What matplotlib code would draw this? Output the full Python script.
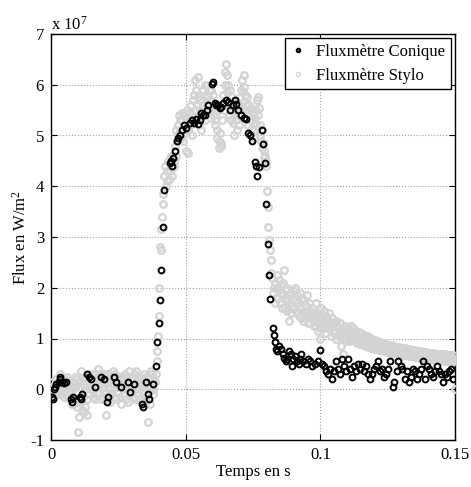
import matplotlib
matplotlib.use("Agg")
import matplotlib.pyplot as plt
from matplotlib.lines import Line2D

plt.rcParams['font.family'] = ['Liberation Serif', 'DejaVu Serif']
plt.rcParams['mathtext.default'] = 'regular'

# ---------------- data (time in ms, flux in units of 1e7 W/m^2) ----------------
conique_t_ms = [
    0.3, 0.6, 1.0, 1.5, 2.0, 2.8, 3.2, 3.5, 3.8, 4.2, 4.8, 5.5, 7.3, 7.7, 8.2, 10.6, 11.0, 11.5, 13.5, 14.0,
    14.8, 16.5, 18.5, 19.5, 20.8, 21.2, 23.5, 24.0, 26.0, 28.5, 29.5, 31.0, 33.8, 34.2, 35.4, 36.0, 36.5, 37.8,
    38.9, 39.2, 40.2, 40.4, 41.0, 41.4, 41.9, 44.2, 44.5, 44.8, 45.3, 46.0, 46.6, 47.2, 48.0, 48.8, 49.5, 50.3,
    51.5, 52.5, 53.2, 54.0, 54.6, 55.2, 55.8, 56.5, 57.0, 57.8, 58.3, 59.6, 60.2, 60.8, 61.4, 62.0, 62.6, 63.3,
    64.0, 65.0, 65.8, 66.5, 67.5, 68.2, 68.8, 69.5, 70.5, 71.5, 72.5, 73.1, 73.8, 74.5, 75.6, 76.0, 76.5, 77.2,
    78.2, 78.7, 79.3, 79.9, 80.5, 81.0, 81.4, 82.4, 82.7, 83.0,
    83.5, 84.0, 84.5, 85.5, 86.0, 86.5, 87.2, 87.8, 88.5, 89.0, 89.5, 90.0, 90.7, 91.3, 92.0, 92.5, 93.0, 93.5,
    94.5, 95.5, 96.3, 97.0, 98.0, 99.0, 99.8, 100.5, 101.3, 102.0, 102.7, 103.5, 104.2, 105.0, 105.8, 106.5,
    107.2, 108.0, 108.8, 109.5, 110.3, 111.0, 111.8, 112.5, 113.2, 114.0, 114.8, 115.5, 116.3, 117.0, 117.8,
    118.6, 119.3, 120.0, 120.8, 121.5, 122.3, 123.0, 123.8, 124.5, 125.3, 126.0, 126.8, 127.5, 128.3, 129.0,
    129.8, 130.5, 131.3, 132.0, 132.8, 133.5, 134.3, 135.0, 135.8, 136.5, 137.3, 138.0, 138.8, 139.5, 140.3,
    141.0, 141.8, 142.5, 143.3, 144.0, 144.8, 145.5, 146.3, 147.0, 147.8, 148.5, 149.2,
]
conique_flux = [
    -0.15, -0.2, 0.0, 0.05, 0.1, 0.15, 0.25, 0.2, 0.15, 0.15, 0.12, 0.15, -0.2, -0.25, -0.15, -0.15, -0.2, -0.1, 0.3, 0.25,
    0.2, 0.05, 0.25, 0.2, -0.25, -0.15, 0.25, 0.15, 0.05, 0.15, -0.05, 0.1, -0.3, -0.35, 0.15, -0.1, -0.2, 0.1,
    0.46, 0.94, 1.3, 1.76, 2.35, 3.2, 3.93, 4.45, 4.5, 4.4, 4.55, 4.7, 4.9, 4.95, 5.0, 5.1, 5.2, 5.14,
    5.25, 5.3, 5.25, 5.33, 5.23, 5.3, 5.45, 5.4, 5.4, 5.5, 5.6, 6.02, 6.05, 5.65, 5.6, 5.6, 5.55, 5.56,
    5.65, 5.7, 5.66, 5.5, 5.6, 5.7, 5.63, 5.5, 5.4, 5.35, 5.33, 5.04, 5.0, 4.9, 4.48, 4.4, 4.2, 4.38,
    5.1, 4.84, 4.45, 3.66, 2.87, 2.25, 1.77, 1.2, 1.07, 0.94,
    0.8, 0.75, 0.85, 0.8, 0.7, 0.62, 0.55, 0.6, 0.75, 0.7, 0.45, 0.6, 0.65, 0.55, 0.5, 0.6, 0.7, 0.55,
    0.5, 0.6, 0.55, 0.45, 0.5, 0.55, 0.78, 0.5, 0.45, 0.35, 0.3, 0.4, 0.2, 0.35, 0.55, 0.4,
    0.3, 0.6, 0.45, 0.35, 0.6, 0.4, 0.25, 0.45, 0.35, 0.5, 0.4, 0.5, 0.35, 0.45, 0.3,
    0.2, 0.3, 0.4, 0.45, 0.55, 0.35, 0.4, 0.25, 0.3, 0.4, 0.55, 0.05, 0.15, 0.35, 0.55,
    0.45, 0.4, 0.2, 0.35, 0.15, 0.25, 0.4, 0.35, 0.2, 0.3, 0.4, 0.55, 0.2, 0.45, 0.4,
    0.3, 0.25, 0.35, 0.45, 0.35, 0.3, 0.15, 0.3, 0.25, 0.35, 0.4, 0.2,
]

stylo_t_ms = [
    0.0, 0.5, 1.0, 1.5, 2.0, 2.5, 3.0, 3.5, 4.0, 4.5,
    5.0, 5.5, 6.0, 6.5, 7.0, 7.5, 8.0, 8.5, 9.0, 9.5,
    10.0, 10.5, 11.0, 11.5, 12.0, 12.5, 13.0, 13.5, 14.0, 14.5,
    15.0, 15.5, 16.0, 16.5, 17.0, 17.5, 18.0, 18.5, 19.0, 19.5,
    20.0, 20.5, 21.0, 21.5, 22.0, 22.5, 23.0, 23.5, 24.0, 24.5,
    25.0, 25.5, 26.0, 26.5, 27.0, 27.5, 28.0, 28.5, 29.0, 29.5,
    30.0, 30.5, 31.0, 31.5, 32.0, 32.5, 33.0, 33.5, 34.0, 34.5,
    35.0, 35.5, 36.0, 36.5, 37.0, 37.5, 38.0, 38.5,
    0.25, 0.75, 1.25, 1.75, 2.25, 2.75, 3.25, 3.75, 4.25, 4.75,
    5.25, 5.75, 6.25, 6.75, 7.25, 7.75, 8.25, 8.75, 9.25, 9.75,
    10.25, 10.75, 11.25, 11.75, 12.25, 12.75, 13.25, 13.75, 14.25, 14.75,
    15.25, 15.75, 16.25, 16.75, 17.25, 17.75, 18.25, 18.75, 19.25, 19.75,
    20.25, 20.75, 21.25, 21.75, 22.25, 22.75, 23.25, 23.75, 24.25, 24.75,
    25.25, 25.75, 26.25, 26.75, 27.25, 27.75, 28.25, 28.75, 29.25, 29.75,
    30.25, 30.75, 31.25, 31.75, 32.25, 32.75, 33.25, 33.75, 34.25, 34.75,
    35.25, 35.75, 36.25, 36.75, 37.25, 37.75, 38.25,
    39.0, 39.25, 39.5, 39.75, 40.0, 40.25, 40.5, 40.75, 41.0, 41.25, 41.5, 41.75, 42.0,
    42.5, 43.0, 43.5, 44.0, 44.5, 45.0, 45.5, 46.0, 46.5, 47.0,
    47.5, 48.0, 48.5, 49.0, 49.5, 50.0, 50.5, 51.0, 51.5, 52.0,
    52.5, 53.0, 53.5, 54.0, 54.5, 55.0, 55.5, 56.0, 56.5, 57.0,
    57.5, 58.0, 58.5, 59.0, 59.5, 60.0, 60.5, 61.0, 61.5, 62.0,
    62.5, 63.0, 63.5, 64.0, 64.5, 65.0, 65.5, 66.0, 66.5, 67.0,
    67.5, 68.0, 68.5, 69.0, 69.5, 70.0, 70.5, 71.0, 71.5, 72.0,
    72.5, 73.0, 73.5, 74.0, 74.5, 75.0, 75.5, 76.0, 76.5, 77.0,
    77.5, 78.0, 78.5, 79.0, 79.5, 80.0,
    42.75, 43.25, 43.75, 44.25, 44.75, 45.25, 45.75, 46.25, 46.75, 47.25,
    47.75, 48.25, 48.75, 49.25, 49.75, 50.25, 50.75, 51.25, 51.75, 52.25,
    52.75, 53.25, 53.75, 54.25, 54.75, 55.25, 55.75, 56.25, 56.75, 57.25,
    57.75, 58.25, 58.75, 59.25, 59.75, 60.25, 60.75, 61.25, 61.75, 62.25,
    62.75, 63.25, 63.75, 64.25, 64.75, 65.25, 65.75, 66.25, 66.75, 67.25,
    67.75, 68.25, 68.75, 69.25, 69.75, 70.25, 70.75, 71.25, 71.75, 72.25,
    72.75, 73.25, 73.75, 74.25, 74.75, 75.25, 75.75, 76.25, 76.75, 77.25,
    77.75, 78.25, 78.75, 79.25, 79.75,
    80.25, 80.5, 80.75, 81.0, 81.25, 81.5, 81.75, 82.0,
    82.5, 83.0, 83.5, 84.0, 84.5, 85.0, 85.5, 86.0, 86.5, 87.0,
    87.5, 88.0, 88.5, 89.0, 89.5, 90.0, 90.5, 91.0, 91.5, 92.0,
    92.5, 93.0, 93.5, 94.0, 94.5, 95.0, 95.5, 96.0, 96.5, 97.0,
    97.5, 98.0, 98.5, 99.0, 99.5, 100.0,
    82.75, 83.25, 83.75, 84.25, 84.75, 85.25, 85.75, 86.25, 86.75, 87.25,
    87.75, 88.25, 88.75, 89.25, 89.75, 90.25, 90.75, 91.25, 91.75, 92.25,
    92.75, 93.25, 93.75, 94.25, 94.75, 95.25, 95.75, 96.25, 96.75, 97.25,
    97.75, 98.25, 98.75, 99.25, 99.75,
    100.5, 101.0, 101.5, 102.0, 102.5, 103.0, 103.5, 104.0, 104.5, 105.0,
    105.5, 106.0, 106.5, 107.0, 107.5, 108.0, 108.5, 109.0, 109.5, 110.0,
    110.5, 111.0, 111.5, 112.0, 112.5, 113.0, 113.5, 114.0, 114.5, 115.0,
    115.5, 116.0, 116.5, 117.0, 117.5, 118.0, 118.5, 119.0, 119.5, 120.0,
    120.5, 121.0, 121.5, 122.0, 122.5, 123.0, 123.5, 124.0, 124.5, 125.0,
    125.5, 126.0, 126.5, 127.0, 127.5, 128.0, 128.5, 129.0, 129.5, 130.0,
    130.5, 131.0, 131.5, 132.0, 132.5, 133.0, 133.5, 134.0, 134.5, 135.0,
    135.5, 136.0, 136.5, 137.0, 137.5, 138.0, 138.5, 139.0, 139.5, 140.0,
    140.5, 141.0, 141.5, 142.0, 142.5, 143.0, 143.5, 144.0, 144.5, 145.0,
    145.5, 146.0, 146.5, 147.0, 147.5, 148.0, 148.5, 149.0, 149.5, 150.0,
    100.25, 100.75, 101.25, 101.75, 102.25, 102.75, 103.25, 103.75, 104.25, 104.75,
    105.25, 105.75, 106.25, 106.75, 107.25, 107.75, 108.25, 108.75, 109.25, 109.75,
    110.25, 110.75, 111.25, 111.75, 112.25, 112.75, 113.25, 113.75, 114.25, 114.75,
    115.25, 115.75, 116.25, 116.75, 117.25, 117.75, 118.25, 118.75, 119.25, 119.75,
    120.25, 120.75, 121.25, 121.75, 122.25, 122.75, 123.25, 123.75, 124.25, 124.75,
    125.25, 125.75, 126.25, 126.75, 127.25, 127.75, 128.25, 128.75, 129.25, 129.75,
    130.25, 130.75, 131.25, 131.75, 132.25, 132.75, 133.25, 133.75, 134.25, 134.75,
    135.25, 135.75, 136.25, 136.75, 137.25, 137.75, 138.25, 138.75, 139.25, 139.75,
    140.25, 140.75, 141.25, 141.75, 142.25, 142.75, 143.25, 143.75, 144.25, 144.75,
    145.25, 145.75, 146.25, 146.75, 147.25, 147.75, 148.25, 148.75, 149.25, 149.75,
]
stylo_flux = [
    0.05, -0.1, 0.0, 0.1, 0.05, 0.15, -0.05, 0.1, 0.2, 0.0,
    0.1, -0.05, 0.25, 0.0, -0.2, -0.1, 0.15, -0.3, 0.05, 0.2,
    -0.85, -0.55, 0.35, -0.4, 0.1, -0.35, 0.2, -0.5, 0.3, 0.0,
    0.25, -0.15, 0.1, 0.3, -0.1, 0.4, 0.05, -0.2, 0.2, 0.15,
    -0.1, -0.5, 0.3, 0.0, -0.25, 0.1, 0.35, -0.15, 0.2, 0.05,
    -0.05, 0.25, -0.3, 0.15, 0.0, 0.3, -0.2, 0.1, 0.35, -0.1,
    0.2, -0.15, 0.05, 0.35, 0.0, -0.2, 0.15, 0.25, -0.1, 0.3,
    -0.25, 0.1, -0.65, 0.2, 0.05, 0.3, -0.1, 0.15,
    0.15, 0.0, -0.15, 0.2, -0.05, 0.05, 0.3, -0.1, 0.1, -0.15,
    0.2, 0.05, -0.15, 0.15, 0.05, -0.3, 0.0, 0.25, -0.2, -0.35,
    0.15, -0.25, 0.05, -0.15, -0.45, 0.25, -0.2, 0.05, -0.1, 0.2,
    0.0, 0.3, -0.2, 0.15, 0.25, -0.05, 0.3, 0.1, -0.15, 0.3,
    0.1, -0.2, 0.15, -0.1, 0.25, -0.05, 0.1, 0.3, -0.2, 0.25,
    0.1, -0.15, 0.2, -0.1, 0.25, 0.05, 0.2, -0.25, 0.05, 0.2,
    0.0, 0.3, -0.2, 0.1, 0.25, 0.05, -0.25, 0.1, 0.2, -0.05,
    0.25, -0.15, 0.0, -0.3, 0.35, 0.0, 0.2,
    0.3, 0.55, 0.75, 1.05, 1.45, 2.0, 2.8, 2.75, 3.15, 3.4, 3.65, 3.85, 4.2,
    4.4, 4.1, 4.5, 4.3, 4.6, 4.2, 4.5, 4.8, 4.6, 5.0,
    5.4, 5.1, 5.3, 4.9, 5.4, 4.7, 5.5, 5.1, 5.3, 5.6,
    5.0, 5.8, 6.1, 5.5, 6.15, 5.2, 5.7, 5.4, 5.9, 5.3,
    5.8, 6.0, 5.5, 5.7, 5.9, 5.4, 5.6, 5.2, 4.95, 5.5,
    4.75, 4.85, 5.3, 5.8, 6.0, 6.4, 6.2, 5.6, 5.9, 5.3,
    5.5, 5.0, 5.7, 5.1, 5.4, 5.6, 5.9, 6.1, 6.2, 5.8,
    5.5, 5.2, 5.6, 5.0, 5.3, 5.45, 4.95, 5.2, 5.7, 5.75,
    5.2, 4.9, 5.1, 4.55, 4.6, 4.4,
    4.0, 4.3, 4.15, 4.45, 4.35, 4.6, 4.4, 5.1, 4.9, 5.2,
    5.3, 4.95, 5.45, 5.2, 5.05, 5.35, 4.65, 5.45, 5.2, 5.4,
    5.7, 5.3, 5.9, 5.6, 5.75, 5.5, 5.1, 5.6, 5.5, 6.0,
    5.6, 5.75, 5.9, 5.35, 5.55, 5.8, 5.3, 5.45, 5.1, 4.9,
    5.05, 4.8, 5.6, 5.5, 6.25, 5.85, 6.0, 5.4, 5.65, 5.75,
    5.25, 5.45, 5.3, 5.6, 5.2, 5.75, 5.5, 5.85, 5.95, 5.6,
    5.75, 5.45, 5.3, 5.55, 5.15, 5.1, 5.35, 5.5, 5.4, 5.55,
    5.0, 4.75, 4.85, 4.7, 4.5,
    3.9, 3.6, 3.2, 2.95, 2.75, 2.55, 2.3, 2.2,
    1.9, 2.1, 1.8, 2.25, 1.95, 1.7, 2.05, 1.85, 2.35, 1.6,
    2.0, 1.75, 1.35, 1.9, 1.65, 1.8, 2.0, 1.55, 1.7, 1.45,
    1.9, 1.6, 1.35, 1.75, 1.5, 1.85, 1.3, 1.55, 1.4, 1.6,
    1.25, 1.5, 1.7, 1.15, 1.4, 1.0,
    2.0, 1.7, 2.0, 1.8, 2.15, 1.9, 1.6, 2.1, 1.75, 1.95,
    1.55, 1.85, 1.7, 1.5, 1.95, 1.6, 1.75, 1.85, 1.5, 1.65,
    1.4, 1.8, 1.55, 1.4, 1.65, 1.5, 1.7, 1.3, 1.5, 1.45,
    1.35, 1.25, 1.45, 1.3, 1.2,
    1.45, 1.25, 1.35, 1.1, 1.4, 1.2, 1.3, 1.05, 1.25, 1.15,
    1.3, 1.0, 1.2, 1.1, 0.85, 1.15, 0.7, 1.05, 0.95, 1.1,
    1.0, 1.15, 1.05, 1.1, 1.0, 1.08, 0.98, 1.04, 0.95, 1.02,
    0.93, 0.99, 0.92, 0.97, 0.9, 0.95, 0.88, 0.93, 0.87, 0.92,
    0.86, 0.9, 0.85, 0.88, 0.83, 0.87, 0.82, 0.85, 0.8, 0.84,
    0.79, 0.82, 0.78, 0.81, 0.77, 0.8, 0.76, 0.79, 0.75, 0.78,
    0.74, 0.77, 0.73, 0.76, 0.72, 0.75, 0.72, 0.74, 0.71, 0.73,
    0.7, 0.72, 0.69, 0.71, 0.68, 0.7, 0.68, 0.69, 0.67, 0.68,
    0.66, 0.68, 0.65, 0.67, 0.65, 0.66, 0.64, 0.66, 0.63, 0.65,
    0.63, 0.64, 0.62, 0.64, 0.61, 0.63, 0.61, 0.62, 0.6, 0.0,
    1.6, 1.3, 1.55, 1.2, 1.45, 1.3, 1.5, 1.2, 1.4, 1.3,
    1.1, 1.35, 1.25, 1.05, 1.3, 1.15, 1.2, 1.0, 1.25, 1.1,
    1.2, 0.95, 1.25, 1.0, 1.2, 0.95, 1.15, 0.92, 1.12, 0.9,
    1.1, 0.88, 1.07, 0.86, 1.05, 0.84, 1.02, 0.82, 1.0, 0.8,
    0.98, 0.79, 0.96, 0.78, 0.94, 0.77, 0.92, 0.76, 0.9, 0.74,
    0.88, 0.73, 0.87, 0.72, 0.85, 0.71, 0.84, 0.7, 0.83, 0.69,
    0.82, 0.68, 0.81, 0.67, 0.8, 0.66, 0.79, 0.65, 0.78, 0.64,
    0.77, 0.63, 0.76, 0.62, 0.75, 0.61, 0.74, 0.6, 0.73, 0.6,
    0.72, 0.59, 0.72, 0.58, 0.71, 0.58, 0.7, 0.57, 0.7, 0.57,
    0.69, 0.56, 0.69, 0.56, 0.68, 0.55, 0.68, 0.55, 0.67, 0.55,
]

series_labels = ['Fluxmètre Conique', 'Fluxmètre Stylo']
x_ticks = [0, 0.05, 0.1, 0.15]
x_tick_labels = ['0', '0.05', '0.1', '0.15']
y_ticks = [-1, 0, 1, 2, 3, 4, 5, 6, 7]
y_tick_labels = ['-1', '0', '1', '2', '3', '4', '5', '6', '7']

assert len(conique_t_ms) == len(conique_flux)
assert len(stylo_t_ms) == len(stylo_flux)

conique_t = [v / 1000.0 for v in conique_t_ms]
stylo_t = [v / 1000.0 for v in stylo_t_ms]

# ---------------- figure ----------------
W, H = 471, 487
fig = plt.figure(figsize=(W / 100, H / 100), dpi=100)
ax = fig.add_axes([51 / W, 47 / H, 404 / W, 406 / H])

grey = '#d3d3d3'
ax.plot(stylo_t, stylo_flux, linestyle='none', marker='o', ms=4.8,
        mfc='none', mec=grey, mew=1.6, zorder=3)
ax.plot(conique_t, conique_flux, linestyle='none', marker='o', ms=4.2,
        mfc='none', mec='black', mew=1.4, zorder=4)

ax.set_xlim(0, 0.15)
ax.set_ylim(-1, 7)
ax.set_xticks(x_ticks)
ax.set_xticklabels(x_tick_labels)
ax.set_yticks(y_ticks)
ax.set_yticklabels(y_tick_labels)
ax.tick_params(direction='in', top=True, right=True, length=4, width=0.8,
               labelsize=12, pad=5)
ax.grid(True, linestyle=':', color='#a0a0a0', linewidth=0.8)
ax.set_axisbelow(True)
for s in ax.spines.values():
    s.set_linewidth(1.0)

ax.set_xlabel('Temps en s', fontsize=12, labelpad=1)
ax.set_ylabel('Flux en W/m$^2$', fontsize=12, labelpad=0)

ax.text(0.0, 1.0, 'x 10$^{7}$', transform=ax.transAxes, fontsize=12,
        ha='left', va='bottom')

handles = [
    Line2D([], [], linestyle='none', marker='o', ms=3, mfc='#333333', mec='black', mew=1),
    Line2D([], [], linestyle='none', marker='o', ms=3, mfc='none', mec=grey, mew=1),
]
leg = ax.legend(handles, series_labels, loc='upper right', fontsize=12,
                frameon=True, fancybox=False, framealpha=1, edgecolor='black',
                borderpad=0.35, handletextpad=0.6, handlelength=0.9,
                labelspacing=0.45, borderaxespad=0.25)
leg.get_frame().set_linewidth(1.0)

fig.savefig('out.png', dpi=100)
